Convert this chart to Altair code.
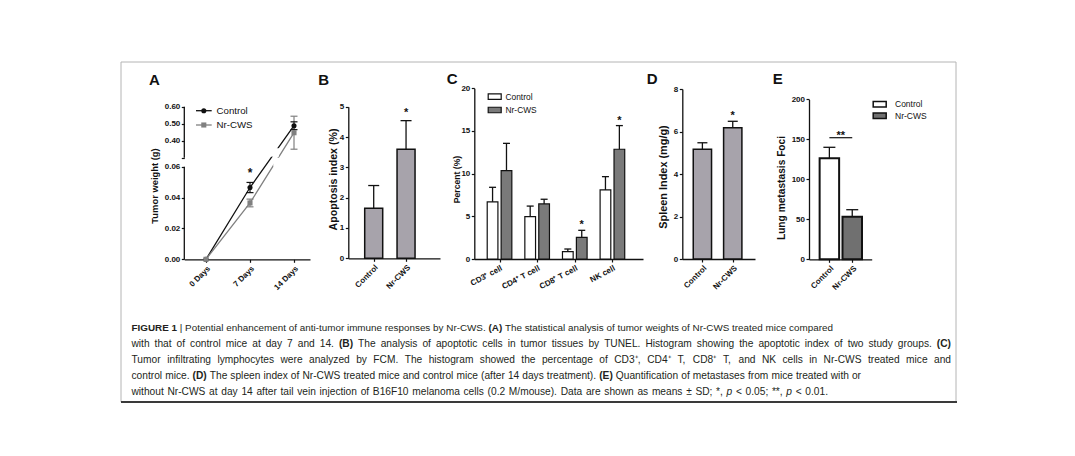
import json
import altair as alt
import pandas as pd

# ============================ data ============================
groups = ["Control", "Nr-CWS"]

a_days = [0, 7, 14]
a_day_labels = ["0 Days", "7 Days", "14 Days"]
a_control = [0.0, 0.0465, 0.488]
a_control_sd = [0.0, 0.0033, 0.023]
a_nrcws = [0.0, 0.0365, 0.447]
a_nrcws_sd = [0.0, 0.0025, 0.097]
a_control_sig = ["", "*", ""]
a_nrcws_sig = ["", "", ""]
a_y_break = [0.00, 0.06, 0.30, 0.60]          # lower segment 0-0.06, upper segment 0.30-0.60
a_y_ticks = [0.00, 0.02, 0.04, 0.06, 0.30, 0.40, 0.50, 0.60]

b_mean = [1.65, 3.60]
b_sd = [0.75, 0.94]
b_sig = ["", "*"]
b_y_ticks = [0, 1, 2, 3, 4, 5]

c_cells = ["CD3⁺ cell", "CD4⁺ T cell", "CD8⁺ T cell", "NK cell"]
c_control = [6.70, 4.96, 0.86, 8.09]
c_control_sd = [1.70, 1.24, 0.31, 1.56]
c_nrcws = [10.35, 6.45, 2.54, 12.86]
c_nrcws_sd = [3.20, 0.55, 0.82, 2.77]
c_control_sig = ["", "", "", ""]
c_nrcws_sig = ["", "", "*", "*"]
c_y_ticks = [0, 5, 10, 15, 20]

d_mean = [5.16, 6.18]
d_sd = [0.31, 0.30]
d_sig = ["", "*"]
d_y_ticks = [0, 2, 4, 6, 8]

e_mean = [126.2, 53.3]
e_sd = [13.8, 8.7]
e_sig = "**"
e_y_ticks = [0, 50, 100, 150, 200]

# ============================ layout ============================
M = 8                    # page margin: page pixel -> chart pixel
W, H = 1059, 440
FONT = "Liberation Sans"
INK = "#111111"
GRAY_LINE = "#808080"
BAR_GRAY = "#a7a3ab"
DARK_FILL_C = "#7a7a7a"
DARK_FILL_E = "#707070"
TICK_FS = 8.0


def p(v):
    return round(v - M, 2)


def left_axis(x_page, title, values, title_fs, title_c, label_expr=None, domain=True):
    kw = dict(orient="left", offset=-p(x_page), title=title, values=values, grid=False,
              domain=domain, domainColor=INK, domainWidth=1.3,
              ticks=True, tickColor=INK, tickWidth=1.2, tickSize=3,
              labelFont=FONT, labelFontSize=TICK_FS, labelFontWeight="bold", labelColor=INK,
              labelPadding=1.5, labelOverlap=False, labelBound=False, labelFlush=False,
              titleFont=FONT, titleFontSize=title_fs, titleFontWeight="bold", titleColor=INK,
              titleX=round(title_c[0] - x_page, 2), titleY=p(title_c[1]),
              titleAlign="center", titleBaseline="middle", titleAngle=270)
    if label_expr:
        kw["labelExpr"] = label_expr
    return alt.Axis(**kw)


def bottom_axis(y_page, values, labels, angle=-45):
    expr = json.dumps(labels, ensure_ascii=False) + "[indexof(" + json.dumps(values) + ", datum.value)]"
    return alt.Axis(orient="bottom", offset=round(p(y_page) - H, 2), title=None, values=values,
                    labelExpr=expr, grid=False, domainColor=INK, domainWidth=1.3,
                    tickColor=INK, tickWidth=1.2, tickSize=3,
                    labelFont=FONT, labelFontSize=TICK_FS, labelFontWeight="bold", labelColor=INK,
                    labelAngle=angle, labelAlign="right", labelBaseline="top", labelPadding=2,
                    labelOverlap=False, labelBound=False, labelFlush=False)


def lin_scale(domain, rng):
    return alt.Scale(domain=domain, range=rng, nice=False, zero=False)


def index_scale(c1_page, c2_page, x0_page, x1_page, i1=1, i2=2):
    step = (c2_page - c1_page) / (i2 - i1)
    d0 = i1 + (x0_page - c1_page) / step
    d1 = i1 + (x1_page - c1_page) / step
    return lin_scale([round(d0, 4), round(d1, 4)], [p(x0_page), p(x1_page)])


layers = []

# ---------------- frame ----------------
one = pd.DataFrame({"k": [0]})
layers.append(alt.Chart(one).mark_rect(fillOpacity=0, stroke="#b4b4b4", strokeWidth=1).encode(
    x=alt.value(p(121)), x2=alt.value(p(956)), y=alt.value(p(62)), y2=alt.value(p(402))))
layers.append(alt.Chart(one).mark_rule(color="#3a3a3a", strokeWidth=2).encode(
    x=alt.value(p(121)), x2=alt.value(p(957)), y=alt.value(p(402))))

# ---------------- panel letters ----------------
letters = pd.DataFrame({
    "t": ["A", "B", "C", "D", "E"],
    "x": [p(149), p(318.3), p(446.7), p(646.7), p(772.7)],
    "y": [p(85), p(84.5), p(83.5), p(83.5), p(84)],
})
layers.append(alt.Chart(letters).mark_text(font=FONT, fontSize=15, fontWeight="bold", color=INK,
                                           align="left", baseline="alphabetic").encode(
    x=alt.X("x:Q", scale=None), y=alt.Y("y:Q", scale=None), text="t:N"))

# ================= Panel A : tumour weight, broken y axis =================
rowsA = []
for g, m, s, sig in ((groups[0], a_control, a_control_sd, a_control_sig),
                     (groups[1], a_nrcws, a_nrcws_sd, a_nrcws_sig)):
    for d, v, e, st in zip(a_days, m, s, sig):
        rowsA.append({"group": g, "day": d, "w": v, "lo": v - e, "hi": v + e, "sig": st})
dfA = pd.DataFrame(rowsA)

A_X0, A_X1 = 184.3, 310.0
A_D0, A_D14 = 206.0, 294.0
ppd = (A_D14 - A_D0) / 14.0
xA_dom = [round((A_X0 - A_D0) / ppd, 4), round((A_X1 - A_D0) / ppd, 4)]
xA = lin_scale(xA_dom, [p(A_X0), p(A_X1)])
yA = lin_scale(a_y_break, [p(259.3), p(166.7), p(157.7), p(106.7)])
colA = alt.Scale(domain=groups, range=[INK, GRAY_LINE])
shpA = alt.Scale(domain=groups, range=["circle", "square"])
lab_a = "datum.value == 0.3 ? '' : format(datum.value, '.2f')"
axA_x = bottom_axis(259.3, a_days, a_day_labels)
axA_y = left_axis(184.3, "Tumor weight (g)", a_y_ticks, 9.4, (154.0, 185.5), lab_a, domain=False)


def XA(f):
    return alt.X(f, scale=xA, axis=axA_x)


def YA(f):
    return alt.Y(f, scale=yA, axis=axA_y)


cA = alt.Color("group:N", scale=colA, legend=None)

segA = pd.DataFrame({"y1": [a_y_break[0], a_y_break[2]], "y2": [a_y_break[1], a_y_break[3]]})
a_axis_line = alt.Chart(segA).mark_rule(color=INK, strokeWidth=1.3).encode(
    x=alt.XDatum(xA_dom[0], type="quantitative", scale=xA, axis=axA_x),
    y=YA("y1:Q"), y2="y2:Q")
a_lines = alt.Chart(dfA).mark_line(strokeWidth=1.3).encode(
    x=XA("day:Q"), y=YA("w:Q"), color=cA, order="day:Q")
# small white breaks where each line crosses the axis break
gapA = pd.DataFrame({"x1": [9.9, 10.7], "x2": [11.6, 12.9], "y1": [0.306, 0.062], "y2": [0.356, 0.300]})
a_gap = alt.Chart(gapA).mark_rect(color="white").encode(
    x=XA("x1:Q"), x2="x2:Q", y=YA("y1:Q"), y2="y2:Q")
errA = alt.Chart(dfA).transform_filter("datum.hi > datum.lo")
a_err = errA.mark_rule(strokeWidth=1.2).encode(x=XA("day:Q"), y=YA("lo:Q"), y2="hi:Q", color=cA)
a_cap_hi = errA.mark_tick(orient="horizontal", size=7, thickness=1.2, opacity=1).encode(
    x=XA("day:Q"), y=YA("hi:Q"), color=cA)
a_cap_lo = errA.mark_tick(orient="horizontal", size=7, thickness=1.2, opacity=1).encode(
    x=XA("day:Q"), y=YA("lo:Q"), color=cA)
a_pts = alt.Chart(dfA).mark_point(filled=True, size=26, opacity=1).encode(
    x=XA("day:Q"), y=YA("w:Q"), color=cA, shape=alt.Shape("group:N", scale=shpA, legend=None))
a_star = alt.Chart(dfA).transform_filter("datum.sig != ''").mark_text(
    font=FONT, fontSize=12, fontWeight="bold", color=INK, baseline="middle", dy=-9).encode(
    x=XA("day:Q"), y=YA("hi:Q"), text="sig:N")
layers.append(alt.layer(a_axis_line, a_lines, a_gap, a_err, a_cap_hi, a_cap_lo, a_pts, a_star))

# legend A (line + marker)
legA = pd.DataFrame({"group": groups})
yLegA = alt.Scale(type="point", domain=groups, range=[p(110.7), p(125.0)], padding=0)
lA_line = alt.Chart(legA).mark_rule(strokeWidth=1.3).encode(
    x=alt.value(p(196)), x2=alt.value(p(211.7)), y=alt.Y("group:N", scale=yLegA, axis=None), color=cA)
lA_pt = alt.Chart(legA).mark_point(filled=True, size=26, opacity=1).encode(
    x=alt.value(p(203.8)), y=alt.Y("group:N", scale=yLegA, axis=None), color=cA,
    shape=alt.Shape("group:N", scale=shpA, legend=None))
lA_txt = alt.Chart(legA).mark_text(font=FONT, fontSize=9.7, color=INK, align="left", baseline="middle").encode(
    x=alt.value(p(216.5)), y=alt.Y("group:N", scale=yLegA, axis=None), text="group:N")
layers.append(alt.layer(lA_line, lA_pt, lA_txt))


# ================= bar panels =================
def bar_panel(df, xs, ys, fill_scale, x_axis, y_axis, bar_w, stroke_w, cap_w, star_dy, star_size=11):
    base = alt.Chart(df)

    def X():
        return alt.X("pos:Q", scale=xs, axis=x_axis)

    def Y(f):
        return alt.Y(f, scale=ys, axis=y_axis)

    bars = base.mark_bar(orient="vertical", size=bar_w, stroke=INK, strokeWidth=stroke_w).encode(
        x=X(), y=Y("mean:Q"), y2="base:Q", fill=alt.Fill("group:N", scale=fill_scale, legend=None))
    err = base.mark_rule(color=INK, strokeWidth=1.3).encode(x=X(), y=Y("mean:Q"), y2="hi:Q")
    cap = base.mark_tick(orient="horizontal", size=cap_w, thickness=1.3, color=INK, opacity=1).encode(
        x=X(), y=Y("hi:Q"))
    star = base.transform_filter("datum.sig != ''").mark_text(
        font=FONT, fontSize=star_size, fontWeight="bold", color=INK, baseline="middle", dy=star_dy).encode(
        x=X(), y=Y("hi:Q"), text="sig:N")
    return [bars, err, cap, star]


def two_bar_df(means, sds, sigs):
    return pd.DataFrame({"group": groups, "pos": [1, 2], "mean": means,
                         "hi": [m + s for m, s in zip(means, sds)], "base": [0, 0], "sig": list(sigs)})


# ---- Panel B ----
xB = index_scale(371.2, 407.5, 348.3, 440.0)
yB = lin_scale([0, 5], [p(258.3), p(106.7)])
fillB = alt.Scale(domain=groups, range=[BAR_GRAY, BAR_GRAY])
layers.append(alt.layer(*bar_panel(
    two_bar_df(b_mean, b_sd, b_sig), xB, yB, fillB,
    bottom_axis(258.3, [1, 2], groups),
    left_axis(348.3, "Apoptosis index (%)", b_y_ticks, 10.6, (333.3, 179.0)),
    18, 1.5, 11, -8)))

# ---- Panel C ----
c_off = 0.185
rowsC = []
for gi, cell in enumerate(c_cells):
    for g, m, s, sg, off in ((groups[0], c_control, c_control_sd, c_control_sig, -c_off),
                             (groups[1], c_nrcws, c_nrcws_sd, c_nrcws_sig, c_off)):
        rowsC.append({"group": g, "cell": cell, "pos": gi + 1 + off, "mean": m[gi],
                      "hi": m[gi] + s[gi], "base": 0, "sig": sg[gi]})
dfC = pd.DataFrame(rowsC)
xC = index_scale(495.8, 535.8, 474.3, 643.0)
yC = lin_scale([0, 20], [p(259.0), p(88.3)])
fillC = alt.Scale(domain=groups, range=["white", DARK_FILL_C])
layers.append(alt.layer(*bar_panel(
    dfC, xC, yC, fillC,
    bottom_axis(259.0, [1, 2, 3, 4], c_cells, angle=-28),
    left_axis(474.3, "Percent  (%)", c_y_ticks, 8.6, (456.7, 179.0)),
    10.7, 1.2, 7, -5)))

RECT_PATH = "M-1,-0.42H1V0.42H-1Z"
legC = pd.DataFrame({"group": groups})
yLegC = alt.Scale(type="point", domain=groups, range=[p(96.7), p(110.0)], padding=0)
layers.append(alt.layer(
    alt.Chart(legC).mark_point(shape=RECT_PATH, size=169, filled=True, stroke=INK, strokeWidth=1.2, opacity=1).encode(
        x=alt.value(p(494.7)), y=alt.Y("group:N", scale=yLegC, axis=None),
        fill=alt.Fill("group:N", scale=fillC, legend=None)),
    alt.Chart(legC).mark_text(font=FONT, fontSize=8.4, color=INK, align="left", baseline="middle").encode(
        x=alt.value(p(505.5)), y=alt.Y("group:N", scale=yLegC, axis=None), text="group:N")))

# ---- Panel D ----
xD = index_scale(699.8, 735.0, 682.3, 755.0)
yD = lin_scale([0, 8], [p(259.0), p(89.0)])
layers.append(alt.layer(*bar_panel(
    two_bar_df(d_mean, d_sd, d_sig), xD, yD, fillB,
    bottom_axis(259.0, [1, 2], groups),
    left_axis(682.3, "Spleen Index (mg/g)", d_y_ticks, 10.9, (663.3, 176.5)),
    18.3, 1.5, 10, -5)))

# ---- Panel E ----
xE = index_scale(827.3, 854.5, 809.0, 871.7)
yE = lin_scale([0, 200], [p(259.3), p(99.3)])
fillE = alt.Scale(domain=groups, range=["white", DARK_FILL_E])
axE_x = bottom_axis(259.3, [1, 2], groups)
axE_y = left_axis(809.0, "Lung metastasis Foci", e_y_ticks, 10.2, (781.0, 187.5))
le = bar_panel(two_bar_df(e_mean, e_sd, ["", ""]), xE, yE, fillE, axE_x, axE_y, 19.5, 2.0, 12, -5)
e_top = max(m + s for m, s in zip(e_mean, e_sd)) + 12
dfEsig = pd.DataFrame({"x1": [1], "x2": [2], "xm": [1.5], "y": [e_top], "sig": [e_sig]})
le.append(alt.Chart(dfEsig).mark_rule(color=INK, strokeWidth=1.2).encode(
    x=alt.X("x1:Q", scale=xE, axis=axE_x), x2="x2:Q", y=alt.Y("y:Q", scale=yE, axis=axE_y)))
le.append(alt.Chart(dfEsig).mark_text(font=FONT, fontSize=11, fontWeight="bold", color=INK,
                                      baseline="middle", dy=-2).encode(
    x=alt.X("xm:Q", scale=xE, axis=axE_x), y=alt.Y("y:Q", scale=yE, axis=axE_y), text="sig:N"))
layers.append(alt.layer(*le))

legE = pd.DataFrame({"group": groups})
yLegE = alt.Scale(type="point", domain=groups, range=[p(104.2), p(115.8)], padding=0)
layers.append(alt.layer(
    alt.Chart(legE).mark_point(shape=RECT_PATH, size=169, filled=True, stroke=INK, strokeWidth=1.5, opacity=1).encode(
        x=alt.value(p(879.7)), y=alt.Y("group:N", scale=yLegE, axis=None),
        fill=alt.Fill("group:N", scale=fillE, legend=None)),
    alt.Chart(legE).mark_text(font=FONT, fontSize=8.5, color=INK, align="left", baseline="middle").encode(
        x=alt.value(p(895.0)), y=alt.Y("group:N", scale=yLegE, axis=None), text="group:N")))

# ================= caption =================
AR = {' ': 278, '!': 278, '"': 355, '#': 556, '$': 556, '%': 889, '&': 667, "'": 191, '(': 333, ')': 333,
      '*': 389, '+': 584, ',': 278, '-': 333, '.': 278, '/': 278, ':': 278, ';': 278, '<': 584, '=': 584,
      '>': 584, '?': 556, '|': 260, '±': 549, '⁺': 330,
      'A': 667, 'B': 667, 'C': 722, 'D': 722, 'E': 667, 'F': 611, 'G': 778, 'H': 722, 'I': 278, 'J': 500,
      'K': 667, 'L': 556, 'M': 833, 'N': 722, 'O': 778, 'P': 667, 'Q': 778, 'R': 722, 'S': 667, 'T': 611,
      'U': 722, 'V': 667, 'W': 944, 'X': 667, 'Y': 667, 'Z': 611,
      'a': 556, 'b': 556, 'c': 500, 'd': 556, 'e': 556, 'f': 278, 'g': 556, 'h': 556, 'i': 222, 'j': 222,
      'k': 500, 'l': 222, 'm': 833, 'n': 556, 'o': 556, 'p': 556, 'q': 556, 'r': 333, 's': 500, 't': 278,
      'u': 556, 'v': 500, 'w': 722, 'x': 500, 'y': 500, 'z': 500}
ARB = {' ': 278, '(': 333, ')': 333, 'A': 722, 'B': 722, 'C': 722, 'D': 722, 'E': 667, 'F': 611,
       'G': 778, 'I': 278, 'R': 722, 'U': 722, '1': 556}


def em_width(s, style):
    tot = 0
    for ch in s:
        if style == "b":
            tot += ARB.get(ch, AR.get(ch, 556) * 1.06)
        else:
            tot += AR.get(ch, 556)
    return tot / 1000.0


caption = [
    [("b", "FIGURE 1"), ("r", " | Potential enhancement of anti-tumor immune responses by Nr-CWS. "), ("b", "(A)"),
     ("r", " The statistical analysis of tumor weights of Nr-CWS treated mice compared")],
    [("r", "with that of control mice at day 7 and 14. "), ("b", "(B)"),
     ("r", " The analysis of apoptotic cells in tumor tissues by TUNEL. Histogram showing the apoptotic index of two study groups. "),
     ("b", "(C)")],
    [("r", "Tumor infiltrating lymphocytes were analyzed by FCM. The histogram showed the percentage of CD3⁺, CD4⁺ T, CD8⁺ T, and NK cells in Nr-CWS treated mice and")],
    [("r", "control mice. "), ("b", "(D)"),
     ("r", " The spleen index of Nr-CWS treated mice and control mice (after 14 days treatment). "), ("b", "(E)"),
     ("r", " Quantification of metastases from mice treated with or")],
    [("r", "without Nr-CWS at day 14 after tail vein injection of B16F10 melanoma cells (0.2 M/mouse). Data are shown as means ± SD; *, "),
     ("i", "p"), ("r", " < 0.05; **, "), ("i", "p"), ("r", " < 0.01.")],
]
CAP_X0 = 131.5
CAP_LINE_END = [833.0, 951.0, 951.0, 861.0, 828.0]   # right end of each caption line in the figure
CAP_FS_MIN, CAP_FS_MAX = 9.2, 10.2
cap_rows = []
for li, line in enumerate(caption):
    items = []                       # words and spaces in reading order
    for style, text in line:
        for k, part in enumerate(text.split(" ")):
            if k > 0:
                items.append(("space", " "))
            if part:
                items.append((style, part))
    while items and items[-1][0] == "space":
        items.pop()
    natural_em = sum(em_width(t, "r" if s == "space" else s) for s, t in items)
    target = CAP_LINE_END[li] - CAP_X0
    fs = round(min(max(target / natural_em, CAP_FS_MIN), CAP_FS_MAX), 2)
    n_sp = sum(1 for s, _ in items if s == "space")
    extra = (target - natural_em * fs) / n_sp if n_sp else 0.0
    x = CAP_X0
    for style, text in items:
        if style == "space":
            x += em_width(" ", "r") * fs + extra
            continue
        cap_rows.append({"style": style, "t": text, "fs": fs, "x": p(x), "y": p(331 + 16 * li)})
        x += em_width(text, style) * fs
dfCap = pd.DataFrame(cap_rows)
for fs in sorted(set(dfCap["fs"])):
    for style, weight, fstyle in (("r", "normal", "normal"), ("b", "bold", "normal"), ("i", "normal", "italic")):
        sub = dfCap[(dfCap["fs"] == fs) & (dfCap["style"] == style)]
        if len(sub) == 0:
            continue
        layers.append(alt.Chart(sub).mark_text(
            font=FONT, fontSize=float(fs), fontWeight=weight, fontStyle=fstyle, color="#231f20",
            align="left", baseline="alphabetic").encode(
            x=alt.X("x:Q", scale=None), y=alt.Y("y:Q", scale=None), text="t:N"))

chart = alt.layer(*layers).resolve_scale(
    x="independent", y="independent", color="independent", fill="independent", shape="independent"
).properties(
    width=W, height=H, padding=0, background="white",
    autosize=alt.AutoSizeParams(type="none"),
).configure_view(strokeWidth=0)

chart.save("out.html", embed_options={"renderer": "svg", "actions": False})
